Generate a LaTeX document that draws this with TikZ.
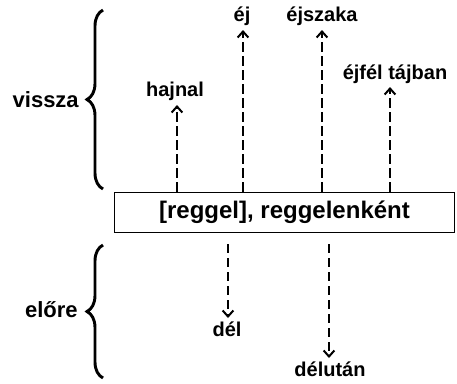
\documentclass[tikz,border=0pt]{standalone}
\usepackage{fontspec}
\setmainfont{Liberation Sans}
\usetikzlibrary{arrows.meta,decorations.pathreplacing}
\begin{document}
\begin{tikzpicture}[x=0.75pt,y=-0.75pt,
  lab/.style={font=\fontsize{15}{17}\selectfont\bfseries,inner sep=0pt},
  side/.style={font=\fontsize{16.5}{19}\selectfont\bfseries,inner sep=0pt},
  arr/.style={line width=2pt,dash pattern=on 7pt off 3.5pt,-{Straight Barb[length=4.5pt,width=8pt,line width=1.5pt]}},
  bracestyle/.style={line width=2.2pt,decorate,decoration={brace,amplitude=12pt}},
  boxstyle/.style={draw,line width=1.4pt,minimum width=255pt,minimum height=30pt,inner sep=0pt,font=\fontsize{18}{21}\selectfont\bfseries}]
\useasboundingbox (0,0) rectangle (457,383);
% braces
\coordinate (b1t) at (103,10);
\coordinate (b1b) at (103,189);
\coordinate (b2t) at (103,245);
\coordinate (b2b) at (103,378);
\draw[bracestyle] (b1b) -- (b1t);
\draw[bracestyle] (b2b) -- (b2t);
\node[side,anchor=east] (vissza) at (79,100) {vissza};
\node[side,anchor=east] (elore) at (78,310) {előre};
% box
\node[boxstyle] (box) at (284.5,212.5) {[reggel], reggelenként};
% upward arrows
\coordinate (t1) at (177,105);
\coordinate (t2) at (243,30);
\coordinate (t3) at (322,30);
\coordinate (t4) at (390,87);
\node[lab,anchor=south] (hajnal) at (175,101) {hajnal};
\node[lab,anchor=south] (ej) at (242,26) {éj};
\node[lab,anchor=south] (ejszaka) at (322,26) {éjszaka};
\node[lab,anchor=south] (ejfel) at (395,84) {éjfél tájban};
\draw[arr] (box.north -| t1) -- (t1);
\draw[arr] (box.north -| t2) -- (t2);
\draw[arr] (box.north -| t3) -- (t3);
\draw[arr] (box.north -| t4) -- (t4);
% downward arrows
\coordinate (d1) at (228,318);
\coordinate (d2) at (329,358);
\node[lab,anchor=north] (del) at (227,322) {dél};
\node[lab,anchor=north] (delutan) at (330,362) {délután};
\draw[arr,shorten <=8pt] (box.south -| d1) -- (d1);
\draw[arr,shorten <=8pt] (box.south -| d2) -- (d2);
\end{tikzpicture}
\end{document}
